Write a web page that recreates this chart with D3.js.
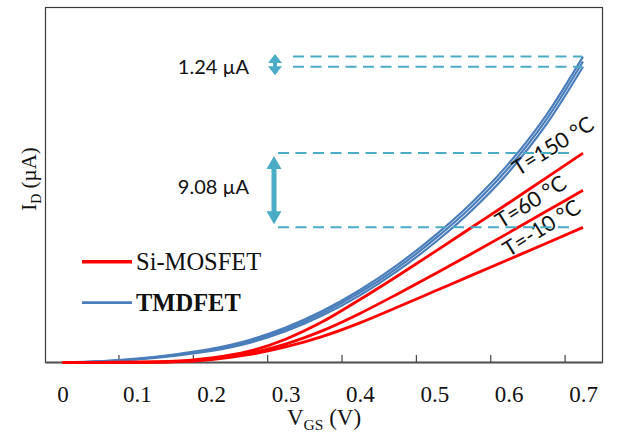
<!DOCTYPE html>
<html>
<head>
<meta charset="utf-8">
<script src="https://cdn.jsdelivr.net/npm/d3@7"></script>
<style>
  body { margin: 0; background: #fff; }
  svg { display: block; }
</style>
</head>
<body>
<svg id="chart" width="617" height="432"></svg>
<script>
// Gate voltage samples (V)
const vgs = [0, 0.05, 0.1, 0.15, 0.2, 0.25, 0.3, 0.35, 0.4, 0.45, 0.5, 0.55, 0.6, 0.65, 0.7];

// Si-MOSFET drain current (µA) at three temperatures
const siT150 = [0, 0.01, 0.05, 0.15, 0.55, 1.35, 2.85, 5.0, 7.7, 10.55, 13.5, 16.5, 19.5, 22.55, 25.6];
const siT60  = [0, 0.01, 0.03, 0.1, 0.42, 1.1, 2.25, 3.9, 6.0, 8.35, 10.8, 13.3, 15.85, 18.45, 21.05];
const siTm10 = [0, 0.01, 0.02, 0.08, 0.35, 0.95, 1.9, 3.2, 4.85, 6.75, 8.7, 10.65, 12.6, 14.55, 16.52];

// TMDFET drain current (µA) at the same three temperatures
const tmdHigh = [0, 0.15, 0.47, 0.98, 1.67, 2.72, 4.27, 6.32, 8.86, 11.91, 15.46, 19.51, 24.31, 30.16, 37.4];
const tmdMid  = [0, 0.13, 0.42, 0.9, 1.55, 2.55, 4.05, 6.05, 8.55, 11.55, 15.05, 19.05, 23.8, 29.6, 36.8];
const tmdLow  = [0, 0.11, 0.37, 0.81, 1.42, 2.37, 3.82, 5.77, 8.21, 11.16, 14.61, 18.56, 23.26, 29.01, 36.16];

// Axis ticks and labels
const xTicks = [0, 0.1, 0.2, 0.3, 0.4, 0.5, 0.6, 0.7];
const siLabels = ["T=150 °C", "T=60 °C", "T=-10 °C"];
const legendNames = ["Si-MOSFET", "TMDFET"];

const svg = d3.select("#chart");
const frame = { left: 45.5, top: 7.5, right: 602.5, bottom: 362.5 };

const x = d3.scaleLinear().domain([0, 0.7]).range([62.5, 583]);
const y = d3.scaleLinear().domain([0, 43.4]).range([frame.bottom, frame.top]);

const serif = "'Liberation Serif', 'Times New Roman', serif";
const sans = "Lato, 'Open Sans', sans-serif";
const teal = "#4bacc6";
const red = "#ff0000";
const blue = "#4a7ebb";

// Plot frame
svg.append("rect")
  .attr("x", frame.left).attr("y", frame.top)
  .attr("width", frame.right - frame.left).attr("height", frame.bottom - frame.top)
  .attr("fill", "none").attr("stroke", "#3a3a3a").attr("stroke-width", 1.2);
svg.append("line")
  .attr("x1", frame.left).attr("x2", frame.right)
  .attr("y1", frame.bottom).attr("y2", frame.bottom)
  .attr("stroke", "#555").attr("stroke-width", 2);

// Bottom axis: labels sit on the values, tick marks sit between categories
const tickShift = -18.4;
const xAxis = d3.axisBottom(x).tickValues(xTicks)
  .tickFormat(d => d === 0 ? "0" : d3.format(".1f")(d))
  .tickSizeInner(-7.5).tickSizeOuter(0).tickPadding(23);
const gx = svg.append("g").attr("transform", `translate(0,${frame.bottom})`).call(xAxis);
gx.select(".domain").remove();
gx.selectAll(".tick line")
  .attr("transform", `translate(${tickShift},0)`)
  .attr("stroke", "#444").attr("stroke-width", 1.2)
  .filter(d => d === 0).remove();
gx.selectAll(".tick text")
  .attr("font-family", serif).attr("font-size", 23).attr("fill", "#111");

// Axis titles
const xt = svg.append("text")
  .attr("x", 324).attr("y", 425).attr("text-anchor", "middle")
  .attr("font-family", serif).attr("font-size", 23).attr("fill", "#111");
xt.append("tspan").text("V");
xt.append("tspan").attr("font-size", 15.5).attr("dy", 5).text("GS");
xt.append("tspan").attr("dy", -5).text(" (V)");

const yt = svg.append("text")
  .attr("transform", "translate(36,179) rotate(-90)")
  .attr("text-anchor", "middle")
  .attr("font-family", serif).attr("font-size", 21).attr("fill", "#111");
yt.append("tspan").text("I");
yt.append("tspan").attr("font-size", 14).attr("dy", 5).text("D");
yt.append("tspan").attr("dy", -5).text(" (µA)");

// Curves
const line = d3.line().x(d => x(d[0])).y(d => y(d[1])).curve(d3.curveMonotoneX);
const pairs = arr => vgs.map((v, i) => [v, arr[i]]);

[tmdLow, tmdMid, tmdHigh].forEach(s => {
  svg.append("path").datum(pairs(s)).attr("d", line)
    .attr("fill", "none").attr("stroke", blue).attr("stroke-width", 2.2);
});
[siTm10, siT60, siT150].forEach(s => {
  svg.append("path").datum(pairs(s)).attr("d", line)
    .attr("fill", "none").attr("stroke", red).attr("stroke-width", 2.8);
});

// Temperature labels along the Si-MOSFET curves
const interp = (arr, v) => {
  const i = Math.min(d3.bisectRight(vgs, v), vgs.length - 1);
  const t = (v - vgs[i - 1]) / (vgs[i] - vgs[i - 1]);
  return arr[i - 1] + t * (arr[i] - arr[i - 1]);
};
const labelSpots = [
  { s: siT150, v: 0.613, dy: -20 },
  { s: siT60, v: 0.59, dy: -8 },
  { s: siTm10, v: 0.6, dy: -2 }
];
labelSpots.forEach((p, i) => {
  const lx = x(p.v), ly = y(interp(p.s, p.v)) + p.dy;
  svg.append("text")
    .attr("transform", `translate(${lx},${ly}) rotate(-32)`)
    .attr("font-family", sans).attr("font-size", 21.5).attr("fill", "#111")
    .text(siLabels[i]);
});

// Spread annotations at V_GS = 0.7 V
const last = arr => arr[arr.length - 1];
const arrowPath = (cx, y1, y2, h, w, s) =>
  `M${cx},${y1} L${cx + w},${y1 + h} L${cx + s},${y1 + h} L${cx + s},${y2 - h} L${cx + w},${y2 - h}` +
  ` L${cx},${y2} L${cx - w},${y2 - h} L${cx - s},${y2 - h} L${cx - s},${y1 + h} L${cx - w},${y1 + h} Z`;

function spread(hi, lo, dashX0, dashX1, arrowX, tipIn, h, w, s, textY) {
  [hi, lo].forEach(v => {
    svg.append("line")
      .attr("x1", dashX0).attr("x2", dashX1).attr("y1", y(v)).attr("y2", y(v))
      .attr("stroke", teal).attr("stroke-width", 2).attr("stroke-dasharray", "11 6.5");
  });
  svg.append("path")
    .attr("d", arrowPath(arrowX, y(hi) + tipIn[0], y(lo) + tipIn[1], h, w, s))
    .attr("fill", teal);
  svg.append("text")
    .attr("x", 249).attr("y", textY).attr("text-anchor", "end")
    .attr("font-family", sans).attr("font-size", 20).attr("fill", "#111")
    .text(`${d3.format(".2f")(hi - lo)} µA`);
}
spread(last(tmdHigh), last(tmdLow), 293, 582, 275, [-2.5, 8.5], 9, 7, 2, 74);
spread(last(siT150), last(siTm10), 278, 572, 274, [3, -3], 13, 7.5, 2.5, 194);

// Legend
const legend = [
  { name: legendNames[0], color: red, width: 3.5, y: 261.7, weight: "normal" },
  { name: legendNames[1], color: blue, width: 2.8, y: 302.7, weight: "bold" }
];
legend.forEach(l => {
  svg.append("line")
    .attr("x1", 82).attr("x2", 132).attr("y1", l.y).attr("y2", l.y)
    .attr("stroke", l.color).attr("stroke-width", l.width);
  svg.append("text")
    .attr("x", 136).attr("y", l.y + 8.5)
    .attr("font-family", serif).attr("font-size", 24.5).attr("font-weight", l.weight)
    .attr("fill", "#111").text(l.name);
});
</script>
</body>
</html>
